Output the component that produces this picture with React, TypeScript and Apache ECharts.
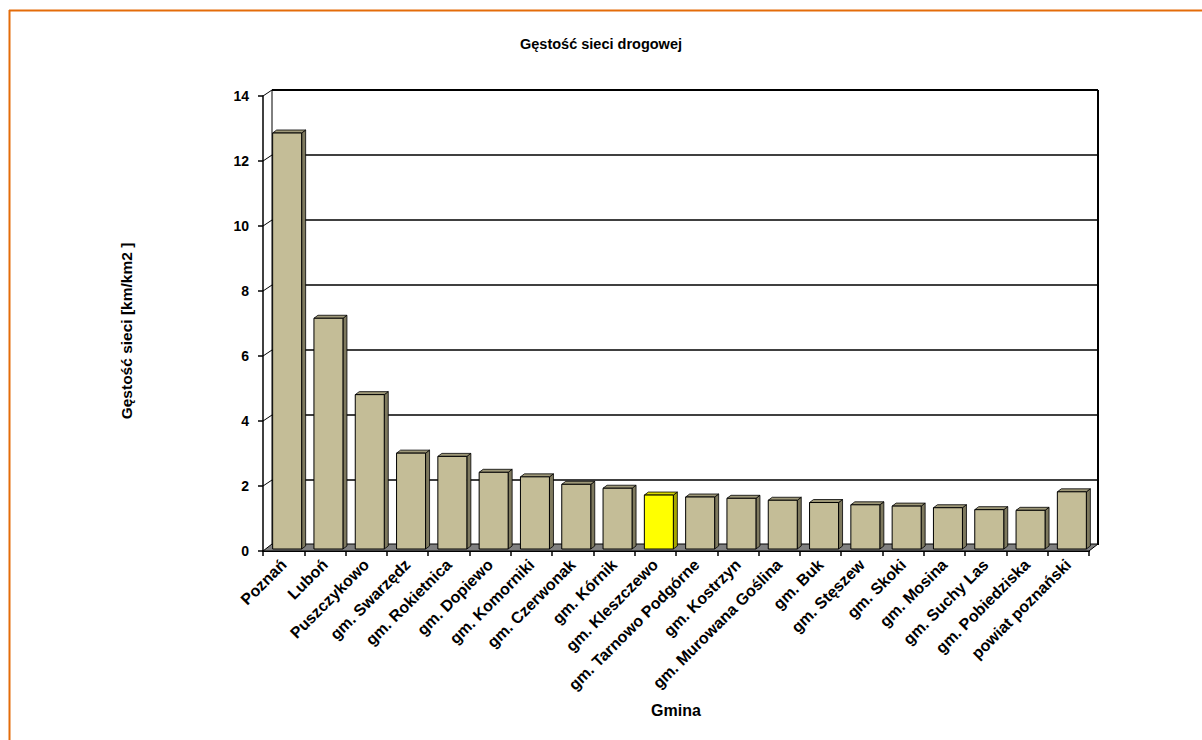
import React, { useEffect, useRef } from "react";
import * as echarts from "echarts";

const categories = [
  "Poznań",
  "Luboń",
  "Puszczykowo",
  "gm. Swarzędz",
  "gm. Rokietnica",
  "gm. Dopiewo",
  "gm. Komorniki",
  "gm. Czerwonak",
  "gm. Kórnik",
  "gm. Kleszczewo",
  "gm. Tarnowo Podgórne",
  "gm. Kostrzyn",
  "gm. Murowana Goślina",
  "gm. Buk",
  "gm. Stęszew",
  "gm. Skoki",
  "gm. Mosina",
  "gm. Suchy Las",
  "gm. Pobiedziska",
  "powiat poznański",
];
const values = [
  12.8, 7.1, 4.75, 2.95, 2.85, 2.36, 2.22, 1.99, 1.87, 1.66, 1.6, 1.56, 1.5,
  1.43, 1.36, 1.32, 1.27, 1.21, 1.19, 1.76,
];
const highlighted = ["gm. Kleszczewo"];
const yTicks = [0, 2, 4, 6, 8, 10, 12, 14];

const TITLE = "Gęstość sieci drogowej";
const Y_NAME = "Gęstość sieci [km/km2 ]";
const X_NAME = "Gmina";

const FONT = "'Liberation Sans', Arial, sans-serif";
const WALL_DX = 9;
const WALL_DY = -6;
const BAR_DX = 4;
const BAR_DY = -3;

export default function App() {
  const ref = useRef<HTMLDivElement>(null);
  useEffect(() => {
    if (!ref.current) return;
    const chart = echarts.init(ref.current, null, { renderer: "svg" });
    const n = categories.length;
    const option: any = {
      animation: false,
      backgroundColor: "#ffffff",
      textStyle: { fontFamily: FONT },
      title: {
        text: TITLE,
        left: "center",
        top: 31,
        textStyle: { fontFamily: FONT, fontWeight: "bold", fontSize: 14.5, color: "#000" },
      },
      graphic: [
        {
          type: "line",
          shape: { x1: 9, y1: 10.5, x2: 1202, y2: 10.5 },
          style: { stroke: "#E46C0A", lineWidth: 2 },
        },
        {
          type: "line",
          shape: { x1: 9.5, y1: 10, x2: 9.5, y2: 740 },
          style: { stroke: "#E46C0A", lineWidth: 2 },
        },
        {
          type: "text",
          x: 126,
          y: 331,
          rotation: Math.PI / 2,
          style: {
            text: Y_NAME,
            align: "center",
            verticalAlign: "middle",
            fontFamily: FONT,
            fontWeight: "bold",
            fontSize: 15.5,
            fill: "#000",
          },
        },
      ],
      grid: { left: 263, right: 113, top: 96, bottom: 189, containLabel: false },
      xAxis: {
        type: "category",
        data: categories,
        boundaryGap: true,
        name: X_NAME,
        nameLocation: "middle",
        nameGap: 151,
        nameTextStyle: { fontFamily: FONT, fontWeight: "bold", fontSize: 16, color: "#000" },
        axisLine: { show: true, lineStyle: { color: "#000", width: 2 } },
        axisTick: { show: true, length: 5, alignWithLabel: false, lineStyle: { color: "#000", width: 1.5 } },
        axisLabel: {
          interval: 0,
          rotate: 45,
          margin: 11,
          fontFamily: FONT,
          fontWeight: "bold",
          fontSize: 16,
          color: "#000",
        },
        splitLine: { show: false },
      },
      yAxis: {
        type: "value",
        min: 0,
        max: 14,
        interval: 2,
        axisLine: { show: true, lineStyle: { color: "#000", width: 1.5 } },
        axisTick: { show: true, length: 5, lineStyle: { color: "#000", width: 1.5 } },
        axisLabel: { margin: 14, fontFamily: FONT, fontWeight: "bold", fontSize: 14, color: "#000" },
        splitLine: { show: false },
      },
      series: [
        {
          type: "custom",
          name: "wall",
          silent: true,
          data: yTicks.map((t) => [0, t]),
          renderItem: (params: any, api: any) => {
            const v = api.value(1);
            const band = api.size([1, 0])[0];
            const c0 = api.coord([0, v]);
            const cN = api.coord([n - 1, v]);
            const xL = c0[0] - band / 2;
            const xR = cN[0] + band / 2;
            const y = c0[1];
            const children: any[] = [];
            if (v === 0) {
              const top = api.coord([0, 14])[1];
              children.push({
                type: "line",
                shape: { x1: xL + WALL_DX, y1: top + WALL_DY, x2: xL + WALL_DX, y2: y + WALL_DY },
                style: { stroke: "#000", lineWidth: 1 },
              });
              children.push({
                type: "line",
                shape: { x1: xR + WALL_DX, y1: top + WALL_DY, x2: xR + WALL_DX, y2: y + WALL_DY },
                style: { stroke: "#000", lineWidth: 2 },
              });
              children.push({
                type: "polygon",
                shape: {
                  points: [
                    [xL, y],
                    [xR, y],
                    [xR + WALL_DX, y + WALL_DY - 1],
                    [xL + WALL_DX, y + WALL_DY - 1],
                  ],
                },
                style: { fill: "#808080", stroke: "#000", lineWidth: 1 },
              });
            } else {
              children.push({
                type: "line",
                shape: { x1: xL + WALL_DX, y1: y + WALL_DY, x2: xR + WALL_DX, y2: y + WALL_DY },
                style: { stroke: "#000", lineWidth: v === 14 ? 2.2 : 1.6 },
              });
              children.push({
                type: "line",
                shape: { x1: xL, y1: y, x2: xL + WALL_DX, y2: y + WALL_DY },
                style: { stroke: "#000", lineWidth: 1 },
              });
            }
            return { type: "group", children };
          },
          z: 1,
        },
        {
          type: "custom",
          name: "Gęstość sieci",
          data: values.map((v, i) => [i, v]),
          renderItem: (params: any, api: any) => {
            const i = api.value(0);
            const v = api.value(1);
            const top = api.coord([i, v]);
            const base = api.coord([i, 0]);
            const isHi = highlighted.indexOf(categories[i]) >= 0;
            const front = isHi ? "#FFFF00" : "#C4BD97";
            const topC = isHi ? "#D8D800" : "#9E9878";
            const side = isHi ? "#A6A600" : "#7E795E";
            const x0 = top[0] - 11;
            const w = 29;
            const yT = top[1] - 2;
            const yB = base[1] - 2;
            return {
              type: "group",
              children: [
                {
                  type: "polygon",
                  shape: {
                    points: [
                      [x0 + w, yT],
                      [x0 + w + BAR_DX, yT + BAR_DY],
                      [x0 + w + BAR_DX, yB + BAR_DY],
                      [x0 + w, yB],
                    ],
                  },
                  style: { fill: side, stroke: "#000", lineWidth: 0.8 },
                },
                {
                  type: "polygon",
                  shape: {
                    points: [
                      [x0, yT],
                      [x0 + BAR_DX, yT + BAR_DY],
                      [x0 + w + BAR_DX, yT + BAR_DY],
                      [x0 + w, yT],
                    ],
                  },
                  style: { fill: topC, stroke: "#000", lineWidth: 0.8 },
                },
                {
                  type: "rect",
                  shape: { x: x0, y: yT, width: w, height: yB - yT },
                  style: { fill: front, stroke: "#000", lineWidth: 1 },
                },
              ],
            };
          },
          z: 2,
        },
      ],
    };
    chart.setOption(option);
    return () => chart.dispose();
  }, []);
  return (
    <div
      ref={ref}
      style={{ position: "fixed", left: 0, top: 0, width: 1202, height: 740 }}
    />
  );
}
